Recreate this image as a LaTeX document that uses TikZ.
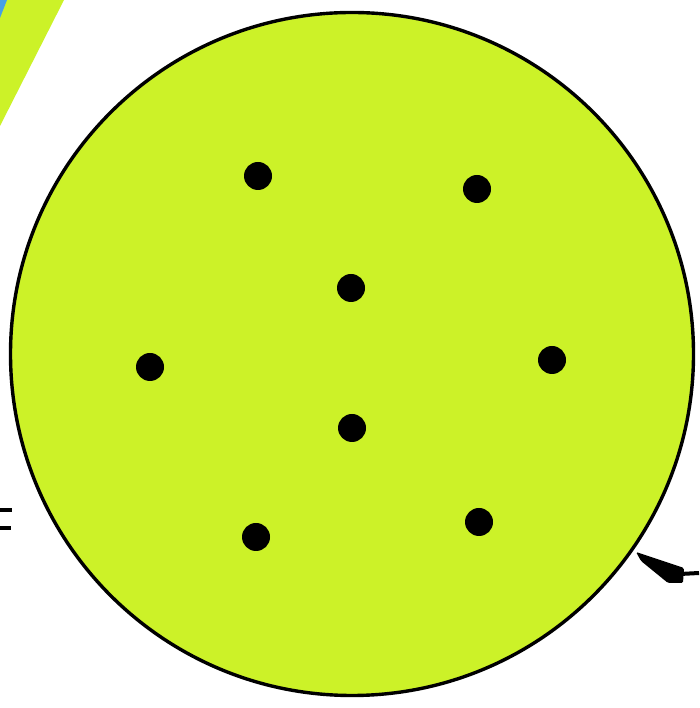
\documentclass[tikz,border=0pt]{standalone}
\definecolor{lime}{RGB}{204,242,40}
\definecolor{skyb}{RGB}{70,160,230}
\tikzset{
  dotpt/.style={circle,fill=black,inner sep=0pt,minimum size=28pt},
  eqbar/.style={line width=4pt,black},
}
\begin{document}
\begin{tikzpicture}[x=1pt,y=1pt]
\useasboundingbox (0,0) rectangle (699,708);
\fill[white] (0,0) rectangle (699,708);
% corner band
\fill[lime] (0,708) -- (64,708) -- (0,582) -- cycle;
\fill[skyb] (0,708) -- (7,708) -- (0,690) -- cycle;
% disc
\node[circle,draw=black,line width=3.4pt,fill=lime,minimum size=683pt,inner sep=0pt] (disc) at (352,354) {};
% dots
\node[dotpt] (d1) at (258,532) {};
\node[dotpt] (d2) at (477,519) {};
\node[dotpt] (d3) at (351,420) {};
\node[dotpt] (d4) at (150,341) {};
\node[dotpt] (d5) at (552,348) {};
\node[dotpt] (d6) at (352,280) {};
\node[dotpt] (d7) at (256,171) {};
\node[dotpt] (d8) at (479,186) {};
% equals mark at left
\coordinate (e1a) at (0,198); \coordinate (e1b) at (12,198);
\coordinate (e2a) at (0,180); \coordinate (e2b) at (11,180);
\draw[eqbar] (e1a) -- (e1b);
\draw[eqbar] (e2a) -- (e2b);
% arrow at right
\coordinate (as) at (699,135);
\coordinate (ab) at (680,134);
\draw[line width=4pt] (as) -- (ab);
\fill[black,rounded corners=1.5pt] (636,156) -- (684,140) -- (683,125) -- (668,125) -- (641,147) -- cycle;
\end{tikzpicture}
\end{document}
